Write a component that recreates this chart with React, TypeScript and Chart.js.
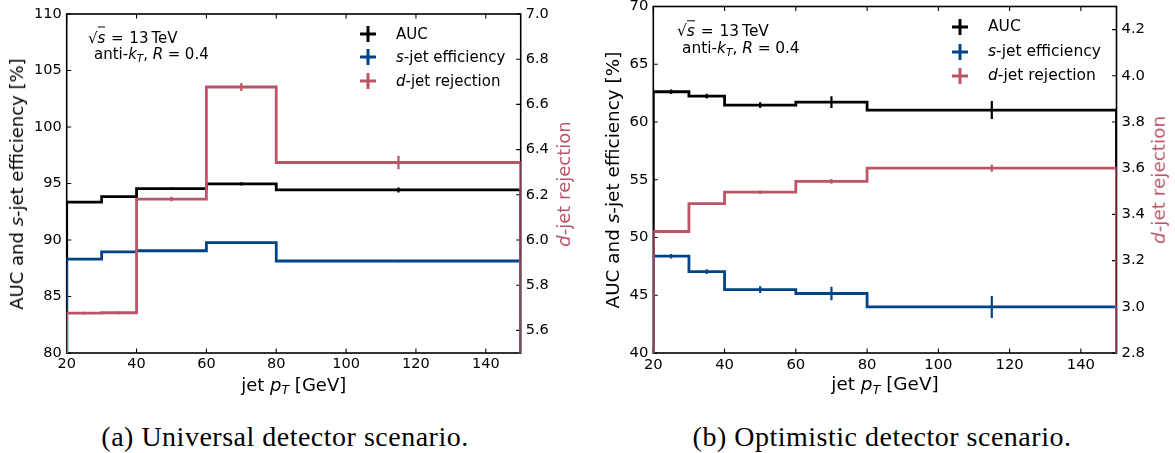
import React, { useEffect, useRef } from "react";
import { Chart, registerables } from "chart.js";

Chart.register(...registerables);

// ---------- data ----------
const binEdges = [20, 30, 40, 60, 80, 150];
const binCenters = [25, 35, 50, 70, 115];
const xTicks = [20, 40, 60, 80, 100, 120, 140];

// (a) Universal detector scenario
const aucA = [93.36, 93.83, 94.55, 94.97, 94.43];
const aucErrA = [0.08, 0.08, 0.1, 0.15, 0.22];
const effA = [88.3, 88.95, 89.05, 89.77, 88.14];
const effErrA = [0.05, 0.05, 0.06, 0.08, 0.1];
const rejA = [5.676, 5.678, 6.181, 6.677, 6.343];
const rejErrA = [0.006, 0.006, 0.01, 0.018, 0.03];
const yTicksA = [80, 85, 90, 95, 100, 105, 110];
const y2TicksA = [5.6, 5.8, 6.0, 6.2, 6.4, 6.6, 6.8, 7.0];

// (b) Optimistic detector scenario
const aucB = [62.62, 62.24, 61.46, 61.72, 61.03];
const aucErrB = [0.2, 0.2, 0.25, 0.5, 0.78];
const effB = [48.38, 47.05, 45.49, 45.15, 43.99];
const effErrB = [0.2, 0.2, 0.3, 0.58, 0.95];
const rejB = [3.326, 3.447, 3.496, 3.543, 3.6];
const rejErrB = [0.005, 0.005, 0.008, 0.01, 0.015];
const yTicksB = [40, 45, 50, 55, 60, 65, 70];
const y2TicksB = [2.8, 3.0, 3.2, 3.4, 3.6, 3.8, 4.0, 4.2];

const BLACK = "#000000";
const BLUE = "#004488";
const RED = "#BB5566";
const FONT = "'DejaVu Sans', sans-serif";

function stepPoints(vals: number[], base: number) {
  const pts: { x: number; y: number }[] = [{ x: binEdges[0], y: base }];
  vals.forEach((v, i) => pts.push({ x: binEdges[i], y: v }));
  pts.push({ x: binEdges[binEdges.length - 1], y: vals[vals.length - 1] });
  pts.push({ x: binEdges[binEdges.length - 1], y: base });
  return pts;
}

const framePlugin = {
  id: "frame",
  beforeDatasetsDraw(chart: any) {
    const { ctx, chartArea, scales } = chart;
    const { left, right, top, bottom } = chartArea;
    ctx.save();
    ctx.strokeStyle = "#000";
    ctx.lineWidth = 1.6;
    ctx.strokeRect(left, top, right - left, bottom - top);
    ctx.lineWidth = 1.1;
    ctx.beginPath();
    const tl = 4.5;
    scales.x.ticks.forEach((t: any) => {
      const px = scales.x.getPixelForValue(t.value);
      ctx.moveTo(px, bottom);
      ctx.lineTo(px, bottom - tl);
      ctx.moveTo(px, top);
      ctx.lineTo(px, top + tl);
    });
    scales.y.ticks.forEach((t: any) => {
      const py = scales.y.getPixelForValue(t.value);
      ctx.moveTo(left, py);
      ctx.lineTo(left + tl, py);
    });
    scales.y2.ticks.forEach((t: any) => {
      const py = scales.y2.getPixelForValue(t.value);
      ctx.moveTo(right, py);
      ctx.lineTo(right - tl, py);
    });
    ctx.stroke();
    ctx.restore();
  },
};

const errPlugin = {
  id: "errbars",
  afterDatasetsDraw(chart: any, _args: any, opts: any) {
    const { ctx, scales } = chart;
    const xs = scales.x;
    (opts.sets || []).forEach((s: any) => {
      const ys = scales[s.axis];
      ctx.save();
      ctx.strokeStyle = s.color;
      ctx.lineWidth = 2.2;
      ctx.beginPath();
      s.y.forEach((v: number, i: number) => {
        const px = xs.getPixelForValue(binCenters[i]);
        ctx.moveTo(px, ys.getPixelForValue(v - s.e[i]));
        ctx.lineTo(px, ys.getPixelForValue(v + s.e[i]));
      });
      ctx.stroke();
      ctx.restore();
    });
  },
};

type PanelProps = {
  left: number;
  width: number;
  padTop: number;
  yW: number;
  y2W: number;
  fs: number;
  yMin: number;
  yMax: number;
  y2Min: number;
  y2Max: number;
  yTicks: number[];
  y2Ticks: number[];
  auc: number[];
  aucErr: number[];
  eff: number[];
  effErr: number[];
  rej: number[];
  rejErr: number[];
};

function Panel(p: PanelProps) {
  const ref = useRef<HTMLCanvasElement | null>(null);
  useEffect(() => {
    if (!ref.current) return;
    const tickFont = { family: FONT, size: p.fs };
    const mk = (label: string, vals: number[], axis: string, base: number, color: string) => ({
      label,
      data: stepPoints(vals, base),
      yAxisID: axis,
      borderColor: color,
      borderWidth: 2.8,
      stepped: "before",
      pointRadius: 0,
      fill: false,
    });
    const chart = new Chart(ref.current, {
      type: "line",
      data: {
        datasets: [
          mk("d-jet rejection", p.rej, "y2", p.y2Min, RED),
          mk("s-jet efficiency", p.eff, "y", p.yMin, BLUE),
          mk("AUC", p.auc, "y", p.yMin, BLACK),
        ] as any,
      },
      options: {
        animation: false,
        responsive: false,
        events: [],
        layout: { padding: { top: p.padTop, left: 0, right: 0, bottom: 0 } },
        plugins: {
          legend: { display: false },
          tooltip: { enabled: false },
          errbars: {
            sets: [
              { y: p.auc, e: p.aucErr, color: BLACK, axis: "y" },
              { y: p.eff, e: p.effErr, color: BLUE, axis: "y" },
              { y: p.rej, e: p.rejErr, color: RED, axis: "y2" },
            ],
          },
        } as any,
        scales: {
          x: {
            type: "linear",
            min: 20,
            max: 150,
            afterBuildTicks: (s: any) => {
              s.ticks = xTicks.map((v) => ({ value: v }));
            },
            afterFit: (s: any) => {
              s.height = 47;
            },
            ticks: {
              font: tickFont,
              color: "#000",
              padding: 3,
              autoSkip: false,
              maxRotation: 0,
              callback: (v: any) => String(v),
            },
            grid: { display: false, drawTicks: false },
            border: { display: false },
          },
          y: {
            type: "linear",
            position: "left",
            min: p.yMin,
            max: p.yMax,
            afterBuildTicks: (s: any) => {
              s.ticks = p.yTicks.map((v) => ({ value: v }));
            },
            afterFit: (s: any) => {
              s.width = p.yW;
            },
            ticks: {
              font: tickFont,
              color: "#000",
              padding: 5,
              autoSkip: false,
              callback: (v: any) => String(v),
            },
            grid: { display: false, drawTicks: false },
            border: { display: false },
          },
          y2: {
            type: "linear",
            position: "right",
            min: p.y2Min,
            max: p.y2Max,
            afterBuildTicks: (s: any) => {
              s.ticks = p.y2Ticks.map((v) => ({ value: v }));
            },
            afterFit: (s: any) => {
              s.width = p.y2W;
            },
            ticks: {
              font: tickFont,
              color: "#000",
              padding: 5,
              autoSkip: false,
              callback: (v: any) => Number(v).toFixed(1),
            },
            grid: { display: false, drawTicks: false },
            border: { display: false },
          },
        },
      } as any,
      plugins: [framePlugin, errPlugin],
    });
    return () => chart.destroy();
  }, []);
  return (
    <canvas
      ref={ref}
      width={p.width}
      height={420}
      style={{ position: "absolute", left: p.left, top: -20, width: p.width, height: 420 }}
    />
  );
}

const txt: React.CSSProperties = {
  position: "absolute",
  fontFamily: FONT,
  lineHeight: 1,
  whiteSpace: "nowrap",
  color: "#000",
};

const subT: React.CSSProperties = { fontSize: "70%", fontStyle: "italic", verticalAlign: "-0.25em" };
const eq: React.CSSProperties = { margin: "0 0.38em" };

function Plus({ color }: { color: string }) {
  return (
    <svg width={16} height={16} style={{ display: "block" }}>
      <line x1={8} y1={0} x2={8} y2={16} stroke={color} strokeWidth={3} />
      <line x1={0} y1={8} x2={16} y2={8} stroke={color} strokeWidth={3} />
    </svg>
  );
}

function Legend({ mx, tx, ys, fs }: { mx: number; tx: number; ys: number[]; fs: number }) {
  const items = [
    { c: BLACK, t: <>AUC</> },
    { c: BLUE, t: <><i>s</i>-jet efficiency</> },
    { c: RED, t: <><i>d</i>-jet rejection</> },
  ];
  return (
    <>
      {items.map((it, i) => (
        <React.Fragment key={i}>
          <div style={{ position: "absolute", left: mx - 8, top: ys[i] - 8 }}>
            <Plus color={it.c} />
          </div>
          <div style={{ ...txt, fontSize: fs, left: tx, top: ys[i], transform: "translateY(-50%)" }}>{it.t}</div>
        </React.Fragment>
      ))}
    </>
  );
}

function Annot({ x1, y1, x2, y2, fs }: { x1: number; y1: number; x2: number; y2: number; fs: number }) {
  return (
    <>
      <div style={{ ...txt, fontSize: fs, left: x1, top: y1, transform: "translateY(-50%)" }}>
        √<span style={{ borderTop: "1px solid #000", fontStyle: "italic", paddingTop: 1 }}>s</span>
        <span style={eq}>=</span>13<span style={{ marginLeft: "0.2em" }}>TeV</span>
      </div>
      <div style={{ ...txt, fontSize: fs, left: x2, top: y2, transform: "translateY(-50%)" }}>
        anti-<i>k</i>
        <sub style={subT}>T</sub>, <i>R</i>
        <span style={{ margin: "0 0.3em" }}>=</span>0.4
      </div>
    </>
  );
}

function Titles({ lx, rx, cy, bx, fs }: { lx: number; rx: number; cy: number; bx: number; fs: number }) {
  return (
    <>
      <div style={{ ...txt, fontSize: fs, left: lx, top: cy, transform: "translate(-50%,-50%) rotate(-90deg)" }}>
        AUC and <i>s</i>-jet efficiency [%]
      </div>
      <div
        style={{ ...txt, fontSize: fs, color: RED, left: rx, top: cy, transform: "translate(-50%,-50%) rotate(-90deg)" }}
      >
        <i>d</i>-jet rejection
      </div>
      <div style={{ ...txt, fontSize: fs, left: bx, top: 386, transform: "translate(-50%,-50%)" }}>
        jet <i>p</i>
        <sub style={subT}>T</sub> [GeV]
      </div>
    </>
  );
}

const capStyle: React.CSSProperties = {
  position: "absolute",
  fontFamily: "'Liberation Serif', serif",
  fontSize: 28,
  letterSpacing: 0.5,
  lineHeight: 1,
  whiteSpace: "nowrap",
  color: "#000",
  transform: "translate(-50%,-50%)",
};

export default function App() {
  return (
    <div
      style={{ position: "absolute", left: 0, top: 0, width: 1175, height: 453, background: "#fff", overflow: "hidden" }}
    >
      <Panel
        left={0}
        width={590}
        padTop={34}
        yW={66.7}
        y2W={69.3}
        fs={14.5}
        yMin={80}
        yMax={110}
        y2Min={5.5}
        y2Max={7.0}
        yTicks={yTicksA}
        y2Ticks={y2TicksA}
        auc={aucA}
        aucErr={aucErrA}
        eff={effA}
        effErr={effErrA}
        rej={rejA}
        rejErr={rejErrA}
      />
      <Panel
        left={590}
        width={585}
        padTop={26.5}
        yW={63.3}
        y2W={58.5}
        fs={14.8}
        yMin={40}
        yMax={70}
        y2Min={2.8}
        y2Max={4.3}
        yTicks={yTicksB}
        y2Ticks={y2TicksB}
        auc={aucB}
        aucErr={aucErrB}
        eff={effB}
        effErr={effErrB}
        rej={rejB}
        rejErr={rejErrB}
      />
      <Annot x1={88} y1={38} x2={94} y2={55} fs={15} />
      <Annot x1={677} y1={32} x2={682} y2={50} fs={15.4} />
      <Legend mx={368} tx={396} ys={[34, 57, 81]} fs={15} />
      <Legend mx={960} tx={988} ys={[27, 52, 76]} fs={15.5} />
      <Titles lx={17} rx={564} cy={183.5} bx={293.7} fs={18} />
      <Titles lx={613} rx={1159} cy={179.5} bx={885} fs={18.4} />
      <div style={{ ...capStyle, left: 285, top: 437 }}>(a) Universal detector scenario.</div>
      <div style={{ ...capStyle, left: 882, top: 437 }}>(b) Optimistic detector scenario.</div>
    </div>
  );
}
